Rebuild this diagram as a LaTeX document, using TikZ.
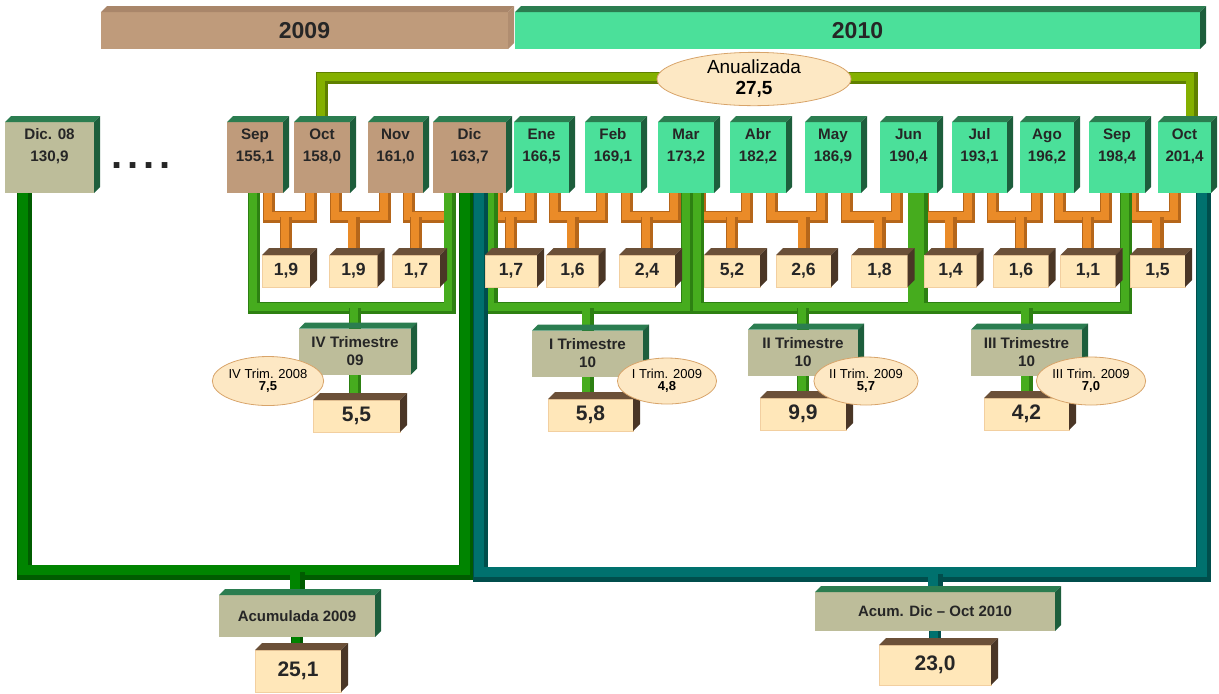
\documentclass[tikz,border=0pt]{standalone}
\usepackage{fontspec}
\setmainfont{Liberation Sans}
\usetikzlibrary{shapes.geometric}

\definecolor{cafe}{HTML}{BF9B7B}
\definecolor{cafetapa}{HTML}{A9866A}
\definecolor{cafelado}{HTML}{B08D70}
\definecolor{verdemes}{HTML}{4BE09A}
\definecolor{caqui}{HTML}{BDBD9A}
\definecolor{verdetapa}{HTML}{2B7D50}
\definecolor{verdelado}{HTML}{1D5E3C}
\definecolor{crema}{HTML}{FFE7B9}
\definecolor{cremaborde}{HTML}{F2CFA0}
\definecolor{pardo}{HTML}{6B5038}
\definecolor{pardolado}{HTML}{4A3626}
\definecolor{naranja}{HTML}{EA8B28}
\definecolor{naranjaosc}{HTML}{B5661A}
\definecolor{verdetri}{HTML}{46AC1E}
\definecolor{verdetriosc}{HTML}{2D8012}
\definecolor{verdeacu}{HTML}{008400}
\definecolor{verdeacuosc}{HTML}{005C00}
\definecolor{petroleo}{HTML}{00716E}
\definecolor{petroleoosc}{HTML}{004E4C}
\definecolor{oliva}{HTML}{84B000}
\definecolor{olivaosc}{HTML}{5F8000}
\definecolor{elipse}{HTML}{FDE8C4}
\definecolor{elipseborde}{HTML}{D8A46A}

\pgfdeclarelayer{fondo}
\pgfsetlayers{fondo,main}

\def\px{0.5pt}

% texto de los meses un poco mas arriba
\newcommand\sube[1]{\raisebox{5.75pt}[\height][\depth]{\begin{tabular}{@{}c@{}}#1\end{tabular}}}

% cara superior y lateral de una caja
\newcommand\relieve[4][6]{%
  \fill[#3] (#2.north west) -- ++(#1,-#1) -- ([shift={(#1,-#1)}]#2.north east) -- (#2.north east) -- cycle;
  \fill[#4] (#2.north east) -- ++(#1,-#1) -- ([shift={(#1,-#1)}]#2.south east) -- (#2.south east) -- cycle;
}

% variacion mensual: de un mes al siguiente
\newcommand\cambio[4][14]{%
  \draw[tubo={naranja}{naranjaosc}] ([shift={(-#1,0)}]#2.south east) |- ([shift={(17,24)}]#3.south west) coordinate (b-#4) -- ([shift={(17,0)}]#3.south west);
  \draw[tubo={naranja}{naranjaosc}] (#4.north) -- (#4.north |- b-#4);
}

% variacion trimestral
\newcommand\trimestre[5]{%
  \draw[tubo={verdetri}{verdetriosc}] ([shift={(#2,0)}]#1.south) |- ([shift={(#4,115)}]#3.south) coordinate (t-#5) -- ([shift={(#4,0)}]#3.south);
  \draw[tubo={verdetri}{verdetriosc}] (#5.north) -- (#5.north |- t-#5);
}

\tikzset{
  caja/.style={rectangle, inner sep=0pt, outer sep=0pt, text=black!85, font=\bfseries},
  mes/.style={caja, minimum width=56*\px, minimum height=71*\px, font=\bfseries\fontsize{7.6}{11}\selectfont},
  tasa/.style={caja, fill=crema, draw=cremaborde, minimum width=52*\px, minimum height=32*\px, font=\bfseries\fontsize{8.8}{10}\selectfont},
  trim/.style={caja, fill=caqui, minimum width=111*\px, minimum height=46*\px, align=center, font=\bfseries\fontsize{7.6}{9}\selectfont},
  total/.style={caja, fill=crema, draw=cremaborde, minimum width=87*\px, minimum height=32*\px, font=\bfseries\fontsize{10.5}{12}\selectfont},
  nota/.style={ellipse, fill=elipse, draw=elipseborde, inner sep=0pt, minimum width=97*\px, minimum height=48*\px, align=center, font=\fontsize{6.5}{6.2}\selectfont},
  tubo/.style 2 args={line width=12*\px, draw=#2, postaction={draw=#1, line width=8*\px, transform canvas={shift={(-0.75pt,0.75pt)}}}},
  tuboancho/.style 2 args={line width=15*\px, draw=#2, postaction={draw=#1, line width=10*\px, transform canvas={shift={(-0.9pt,0.9pt)}}}},
}

\begin{document}
\begin{tikzpicture}[x=\px, y=-\px]
\useasboundingbox (0,0) rectangle (1219,693);

% anos
\node[caja, fill=cafe, minimum width=407*\px, minimum height=37*\px, font=\bfseries\fontsize{11.5}{12}\selectfont] (a2009) at (304.5,30.5) {2009};
\node[caja, fill=verdemes, minimum width=685*\px, minimum height=37*\px, font=\bfseries\fontsize{11.5}{12}\selectfont] (a2010) at (857.5,30.5) {2010};
\relieve{a2009}{cafetapa}{cafelado}
\relieve{a2010}{verdetapa}{verdelado}

% indices mensuales
\node[mes, fill=caqui, minimum width=89*\px] (dic08) at (49.5,157.5) {\sube{Dic. 08\\130,9}};
\node[caja, font=\bfseries\fontsize{20}{20}\selectfont] (puntos) at (141,166) {.\kern2.4pt.\kern2.4pt.\kern2.4pt.};
\node[mes, fill=cafe] (sep09) at (255,157.5) {\sube{Sep\\155,1}};
\node[mes, fill=cafe] (oct09) at (322,157.5) {\sube{Oct\\158,0}};
\node[mes, fill=cafe, minimum width=55*\px] (nov09) at (395.5,157.5) {\sube{Nov\\161,0}};
\node[mes, fill=cafe, minimum width=73*\px] (dic09) at (469.5,157.5) {\sube{Dic\\163,7}};
\node[mes, fill=verdemes, minimum width=55*\px] (ene10) at (541.5,157.5) {\sube{Ene\\166,5}};
\node[mes, fill=verdemes] (feb10) at (613,157.5) {\sube{Feb\\169,1}};
\node[mes, fill=verdemes] (mar10) at (686,157.5) {\sube{Mar\\173,2}};
\node[mes, fill=verdemes] (abr10) at (758,157.5) {\sube{Abr\\182,2}};
\node[mes, fill=verdemes] (may10) at (833,157.5) {\sube{May\\186,9}};
\node[mes, fill=verdemes, minimum width=57*\px] (jun10) at (908.5,157.5) {\sube{Jun\\190,4}};
\node[mes, fill=verdemes, minimum width=55*\px] (jul10) at (979.5,157.5) {\sube{Jul\\193,1}};
\node[mes, fill=verdemes, minimum width=54*\px] (ago10) at (1047,157.5) {\sube{Ago\\196,2}};
\node[mes, fill=verdemes] (sep10) at (1117,157.5) {\sube{Sep\\198,4}};
\node[mes, fill=verdemes, minimum width=53*\px] (oct10) at (1184.5,157.5) {\sube{Oct\\201,4}};

% variaciones mensuales
\node[tasa, minimum width=48*\px] (v1) at (286,271) {1,9};
\node[tasa, minimum width=48*\px] (v2) at (353.5,271) {1,9};
\node[tasa, minimum width=48*\px] (v3) at (416,271) {1,7};
\node[tasa] (v4) at (511,271) {1,7};
\node[tasa] (v5) at (572.5,271) {1,6};
\node[tasa, minimum width=56*\px] (v6) at (647,271) {2,4};
\node[tasa, minimum width=56*\px] (v7) at (732,271) {5,2};
\node[tasa, minimum width=55*\px] (v8) at (803.5,271) {2,6};
\node[tasa, minimum width=56*\px] (v9) at (879.5,271) {1,8};
\node[tasa] (v10) at (950.5,271) {1,4};
\node[tasa, minimum width=55*\px] (v11) at (1021,271) {1,6};
\node[tasa, minimum width=55*\px] (v12) at (1088,271) {1,1};
\node[tasa, minimum width=55*\px] (v13) at (1157.5,271) {1,5};

% trimestres
\node[trim, minimum width=112*\px] (t4) at (355,351.5) {IV Trimestre\\09};
\node[trim] (t1) at (587.5,353.5) {I Trimestre\\10};
\node[trim, minimum width=110*\px] (t2) at (803,352.5) {II Trimestre\\10};
\node[trim] (t3) at (1026.5,352.5) {III Trimestre\\10};
\node[total] (q4) at (356.5,416) {5,5};
\node[total, minimum width=85*\px] (q1) at (590.5,415) {5,8};
\node[total, minimum width=86*\px] (q2) at (803,414) {9,9};
\node[total, minimum width=85*\px] (q3) at (1026.5,414) {4,2};

% acumuladas
\node[trim, minimum width=156*\px, minimum height=42*\px, font=\bfseries\fontsize{7.5}{9}\selectfont] (acu) at (297,616) {Acumulada 2009};
\node[total, minimum width=86*\px, minimum height=42*\px] (a25) at (298,671) {25,1};
\node[trim, minimum width=240*\px, minimum height=39*\px, font=\bfseries\fontsize{7.5}{9}\selectfont] (acd) at (935,611.5) {Acum. Dic – Oct 2010};
\node[total, minimum width=112*\px, minimum height=40*\px] (a23) at (935,665) {23,0};

% caras en relieve
\foreach \n in {dic08,sep09,oct09,nov09,dic09,ene10,feb10,mar10,abr10,may10,jun10,jul10,ago10,sep10,oct10,t4,t1,t2,t3,acu,acd}
  {\relieve{\n}{verdetapa}{verdelado}}
\foreach \n in {v1,v2,v3,v4,v5,v6,v7,v8,v9,v10,v11,v12,v13,q4,q1,q2,q3,a25,a23}
  {\relieve[7]{\n}{pardo}{pardolado}}

% trimestre del ano anterior
\node[nota, minimum width=99*\px, minimum height=49*\px] (e4) at (268,381) {IV Trim. 2008\\\textbf{7,5}};
\node[nota, minimum width=92*\px, minimum height=46*\px] (e1) at (667,381) {I Trim. 2009\\\textbf{4,8}};
\node[nota] (e2) at (866,381) {II Trim. 2009\\\textbf{5,7}};
\node[nota] (e3) at (1091,381) {III Trim. 2009\\\textbf{7,0}};

% anualizada
\node[nota, minimum width=194*\px, minimum height=50*\px, font=\fontsize{9.5}{10.5}\selectfont] (anual) at (754,79) {Anualizada\\\textbf{27,5}};

\begin{pgfonlayer}{fondo}
  \draw[tubo={oliva}{olivaosc}] (oct09.north) |- ([shift={(7,-44)}]oct10.north) coordinate (c-anual) -- ([shift={(7,0)}]oct10.north);

  \cambio{sep09}{oct09}{v1}
  \cambio{oct09}{nov09}{v2}
  \cambio{nov09}{dic09}{v3}
  \cambio[9]{dic09}{ene10}{v4}
  \cambio{ene10}{feb10}{v5}
  \cambio{feb10}{mar10}{v6}
  \cambio{mar10}{abr10}{v7}
  \cambio{abr10}{may10}{v8}
  \cambio{may10}{jun10}{v9}
  \cambio{jun10}{jul10}{v10}
  \cambio{jul10}{ago10}{v11}
  \cambio{ago10}{sep10}{v12}
  \cambio[12]{sep10}{oct10}{v13}

  \trimestre{sep09}{-1}{dic09}{-20}{t4}
  \trimestre{dic09}{22}{mar10}{1}{t1}
  \trimestre{mar10}{12}{jun10}{5}{t2}
  \trimestre{jun10}{13}{sep10}{9}{t3}
  \draw[tubo={verdetri}{verdetriosc}] (t4.south) -- (t4.south |- q4.north);
  \draw[tubo={verdetri}{verdetriosc}] (t1.south) -- (t1.south |- q1.north);
  \draw[tubo={verdetri}{verdetriosc}] (t2.south) -- (t2.south |- q2.north);
  \draw[tubo={verdetri}{verdetriosc}] (t3.south) -- (t3.south |- q3.north);

  \draw[tuboancho={verdeacu}{verdeacuosc}] ([shift={(-25,0)}]dic08.south) |- ([shift={(-3,379)}]dic09.south) coordinate (c-acu) -- ([shift={(-3,0)}]dic09.south);
  \draw[tuboancho={verdeacu}{verdeacuosc}] (acu.north) -- (acu.north |- c-acu);
  \draw[tubo={verdeacu}{verdeacuosc}] (acu.south) -- (acu.south |- a25.north);

  \draw[tuboancho={petroleo}{petroleoosc}] ([shift={(11,0)}]dic09.south) |- ([shift={(19,381)}]oct10.south) coordinate (c-dic) -- ([shift={(19,0)}]oct10.south);
  \draw[tuboancho={petroleo}{petroleoosc}] (acd.north) -- (acd.north |- c-dic);
  \draw[tubo={petroleo}{petroleoosc}] (acd.south) -- (a23.north);
\end{pgfonlayer}
\end{tikzpicture}
\end{document}
